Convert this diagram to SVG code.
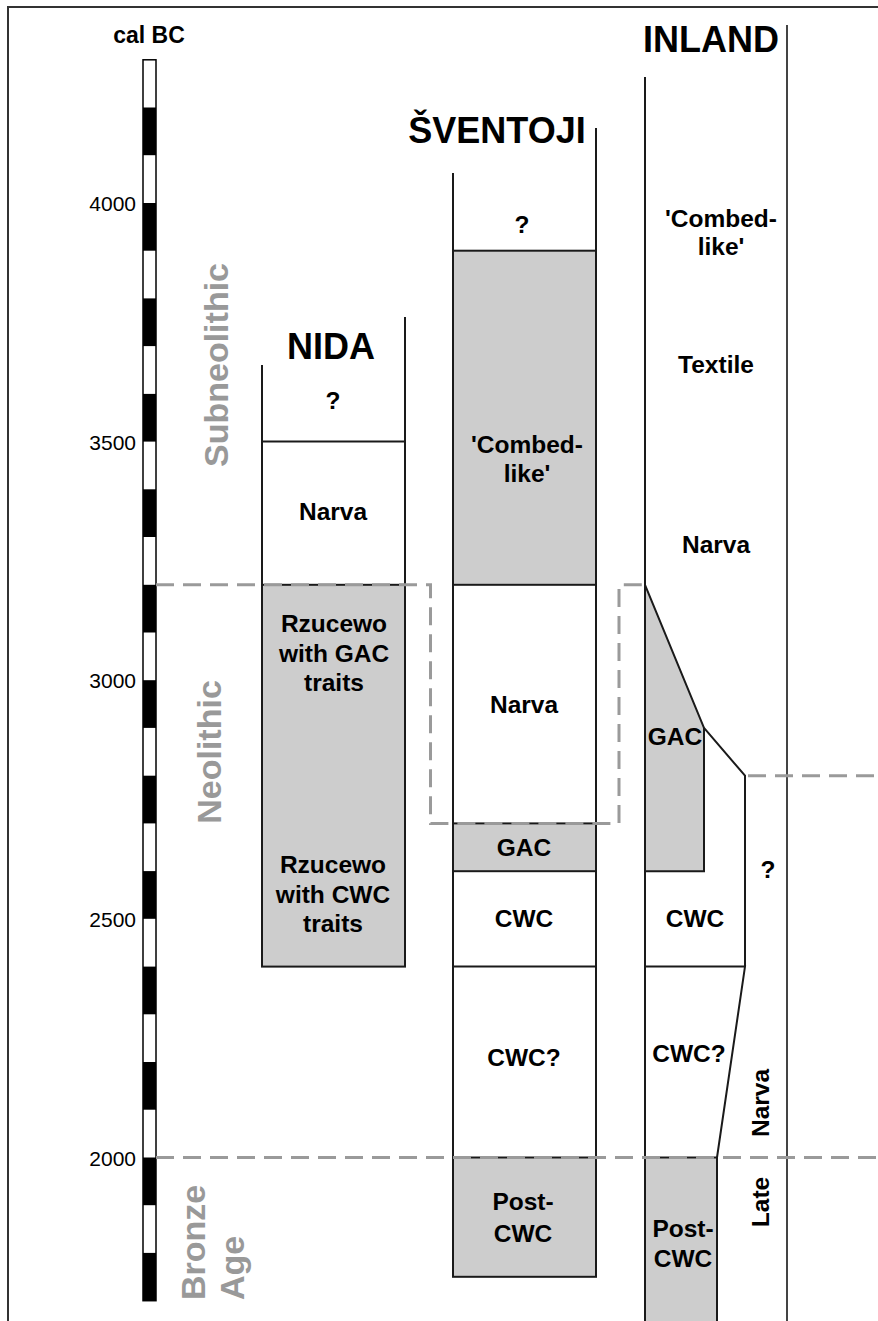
<svg xmlns="http://www.w3.org/2000/svg" width="878" height="1321" viewBox="0 0 878 1321">
<style>
text{font-family:"Liberation Sans",Arial,Helvetica,sans-serif;}
.lbl{font-size:24.5px;font-weight:bold;fill:#000;text-anchor:middle;}
.title{font-size:36px;font-weight:bold;fill:#000;}
.yr{font-size:21px;fill:#000;text-anchor:end;}
.period{font-size:34px;font-weight:bold;fill:#999;}
.ln{stroke:#1a1a1a;stroke-width:2;fill:none;}
.box{stroke:#1a1a1a;stroke-width:2;fill:#cdcdcd;}
.dash{stroke:#9a9a9a;stroke-width:3;fill:none;stroke-dasharray:18 9;}
.blk{fill:#000;}
</style>
<rect width="878" height="1321" fill="#fff"/>
<rect x="8" y="7" width="900" height="1340" fill="none" stroke="#333" stroke-width="2"/>

<g id="scale">
<text x="149" y="43" style="font-size:23px;font-weight:bold;text-anchor:middle">cal BC</text>
<rect x="143" y="59.8" width="13" height="1240.9" fill="#fff" stroke="#000" stroke-width="1.5"/>
<rect class="blk" x="143" y="107.5" width="13" height="47.7"/>
<rect class="blk" x="143" y="203.0" width="13" height="47.7"/>
<rect class="blk" x="143" y="298.4" width="13" height="47.7"/>
<rect class="blk" x="143" y="393.9" width="13" height="47.7"/>
<rect class="blk" x="143" y="489.3" width="13" height="47.7"/>
<rect class="blk" x="143" y="584.8" width="13" height="47.7"/>
<rect class="blk" x="143" y="680.2" width="13" height="47.7"/>
<rect class="blk" x="143" y="775.7" width="13" height="47.7"/>
<rect class="blk" x="143" y="871.1" width="13" height="47.7"/>
<rect class="blk" x="143" y="966.6" width="13" height="47.7"/>
<rect class="blk" x="143" y="1062.0" width="13" height="47.7"/>
<rect class="blk" x="143" y="1157.5" width="13" height="47.7"/>
<rect class="blk" x="143" y="1252.9" width="13" height="47.8"/>
<text class="yr" x="136" y="211">4000</text>
<text class="yr" x="136" y="450">3500</text>
<text class="yr" x="136" y="688">3000</text>
<text class="yr" x="136" y="927">2500</text>
<text class="yr" x="136" y="1165.5">2000</text>
</g>

<g id="periods">
<text class="period" transform="translate(228,365) rotate(-90)" text-anchor="middle">Subneolithic</text>
<text class="period" transform="translate(221,752) rotate(-90)" text-anchor="middle">Neolithic</text>
<text class="period" transform="translate(205,1300) rotate(-90)" text-anchor="start">Bronze</text>
<text class="period" transform="translate(244,1300) rotate(-90)" text-anchor="start">Age</text>
</g>

<g id="nida">
<text class="title" x="331" y="359" text-anchor="middle">NIDA</text>
<rect class="box" x="262" y="584.8" width="143" height="381.8"/>
<line class="ln" x1="262" y1="365" x2="262" y2="966.6"/>
<line class="ln" x1="405" y1="317" x2="405" y2="966.6"/>
<line class="ln" x1="262" y1="441.6" x2="405" y2="441.6"/>
<text class="lbl" x="333" y="409">?</text>
<text class="lbl" x="333" y="520">Narva</text>
<text class="lbl" x="334" y="632">Rzucewo</text>
<text class="lbl" x="334" y="662">with GAC</text>
<text class="lbl" x="334" y="691">traits</text>
<text class="lbl" x="333" y="873">Rzucewo</text>
<text class="lbl" x="333" y="903">with CWC</text>
<text class="lbl" x="333" y="932">traits</text>
</g>

<g id="sventoji">
<text class="title" x="497" y="143" text-anchor="middle">ŠVENTOJI</text>
<rect class="box" x="453" y="250.7" width="143" height="334.1"/>
<rect class="box" x="453" y="823.4" width="143" height="47.8"/>
<rect class="box" x="453" y="1157.5" width="143" height="119.3"/>
<line class="ln" x1="453" y1="173" x2="453" y2="1276.8"/>
<line class="ln" x1="596" y1="128" x2="596" y2="1276.8"/>
<line class="ln" x1="453" y1="966.6" x2="596" y2="966.6"/>
<text class="lbl" x="522" y="233">?</text>
<text class="lbl" x="527" y="453">'Combed-</text>
<text class="lbl" x="527" y="482">like'</text>
<text class="lbl" x="524" y="713">Narva</text>
<text class="lbl" x="524" y="856">GAC</text>
<text class="lbl" x="524" y="927">CWC</text>
<text class="lbl" x="524" y="1066">CWC?</text>
<text class="lbl" x="523" y="1210">Post-</text>
<text class="lbl" x="523" y="1242">CWC</text>
</g>

<g id="inland">
<text class="title" x="711" y="52" text-anchor="middle">INLAND</text>
<path class="box" d="M645,584.8 L704,727.9 L704,871.2 L645,871.2 Z"/>
<rect class="box" x="645" y="1157.5" width="72" height="190"/>
<path class="ln" d="M704,727.9 L745,775.7 L745,966.6 M645,966.6 H745 L717,1157.5"/>
<line class="ln" x1="645" y1="77" x2="645" y2="1330"/>
<line x1="787" y1="25" x2="787" y2="1330" stroke="#444" stroke-width="2"/>
<text class="lbl" x="721" y="227">'Combed-</text>
<text class="lbl" x="721" y="255">like'</text>
<text class="lbl" x="716" y="373">Textile</text>
<text class="lbl" x="716" y="553">Narva</text>
<text class="lbl" x="675" y="745">GAC</text>
<text class="lbl" x="768" y="878">?</text>
<text class="lbl" x="695" y="927">CWC</text>
<text class="lbl" x="689" y="1062">CWC?</text>
<text class="lbl" x="683" y="1237">Post-</text>
<text class="lbl" x="683" y="1267">CWC</text>
<text class="lbl" transform="translate(769,1103) rotate(-90)">Narva</text>
<text class="lbl" transform="translate(769,1202) rotate(-90)">Late</text>
</g>

<g id="connectors">
<path class="dash" d="M156,584.8 H430.5 V823.4 H619 V584.8 H645"/>
<path class="dash" d="M156,1157.5 H878"/>
<path class="dash" d="M748,775.7 H878"/>
</g>
</svg>
